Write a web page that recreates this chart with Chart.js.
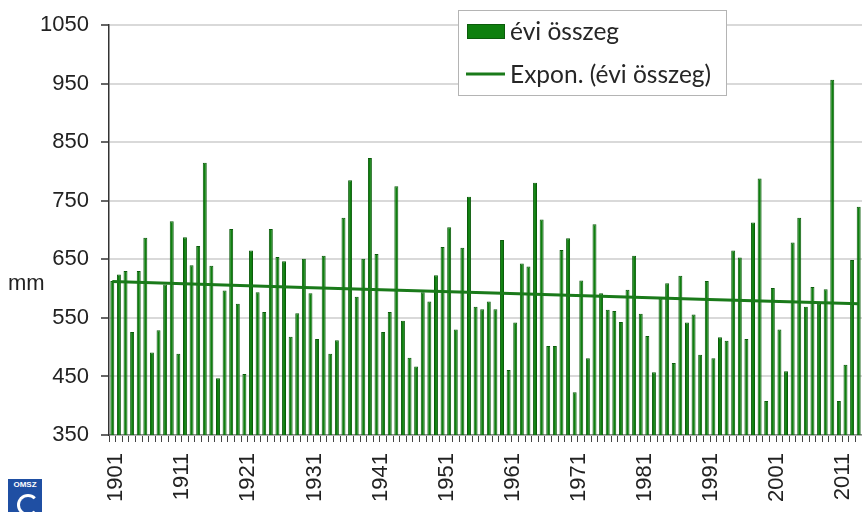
<!DOCTYPE html>
<html>
<head>
<meta charset="utf-8">
<script src="https://cdn.jsdelivr.net/npm/chart.js@4/dist/chart.umd.min.js"></script>
<style>
  html, body { margin: 0; padding: 0; background: #fff; }
  #wrap { position: relative; width: 862px; height: 512px; }
  #logo {
    position: absolute; left: 8px; top: 479px; width: 34px; height: 34px;
    background: #1f4fa3; color: #fff; font: bold 8px Arial, "Liberation Sans", sans-serif;
    text-align: center; line-height: 11px; overflow: hidden;
  }
  #logo span {
    position: absolute; left: 9px; top: 15px; width: 16px; height: 16px;
    border: 3px solid #fff; border-radius: 50%; border-right-color: transparent;
  }
</style>
</head>
<body>
<div id="wrap">
  <canvas id="chart" width="862" height="512"></canvas>
  <div id="logo">OMSZ<span></span></div>
</div>
<script>
// years 1901..2014
const firstYear = 1901;
const lastYear = 2014;
const years = [];
for (let y = firstYear; y <= lastYear; y++) years.push(String(y));

const xTickLabels = ['1901', '1911', '1921', '1931', '1941', '1951', '1961', '1971', '1981', '1991', '2001', '2011'];
const yTicks = [350, 450, 550, 650, 750, 850, 950, 1050];

const barLabel = 'évi összeg';
const lineLabel = 'Expon. (évi összeg)';

// annual precipitation, mm
const annualSum = [
  613, 624, 630, 526, 630, 687, 491, 529, 607, 715,
  489, 688, 640, 673, 815, 639, 447, 597, 702, 574,
  454, 665, 594, 560, 702, 654, 647, 518, 558, 651,
  592, 514, 656, 489, 512, 721, 785, 586, 651, 823,
  659, 526, 560, 775, 545, 482, 467, 594, 578, 623,
  671, 705, 530, 670, 757, 569, 565, 578, 565, 683,
  461, 542, 643, 638, 781, 718, 502, 502, 666, 686,
  423, 614, 481, 710, 592, 564, 562, 543, 598, 656,
  557, 519, 457, 583, 609, 473, 622, 542, 556, 487,
  613, 481, 517, 511, 665, 653, 514, 713, 788, 408,
  601, 530, 459, 679, 721, 569, 603, 574, 599, 957,
  408, 470, 649, 740
];

// exponential trend read at a few years
const trendYears = ['1901', '1930', '1960', '1990', '2014'];
const trendValues = [612, 602, 592, 582, 574];

const trendData = years.map(y => {
  const k = trendYears.indexOf(y);
  return k >= 0 ? trendValues[k] : null;
});

const axisFont = 'Arial, "Liberation Sans", sans-serif';

const legendBox = {
  id: 'legendBox',
  afterDraw(chart) {
    const ctx = chart.ctx;
    ctx.save();
    ctx.fillStyle = '#ffffff';
    ctx.fillRect(458, 10, 268, 85);
    ctx.strokeStyle = '#b4b4b4';
    ctx.lineWidth = 1;
    ctx.strokeRect(458.5, 10.5, 268, 85);

    ctx.fillStyle = '#0e7f0e';
    ctx.fillRect(467, 24, 38, 15);
    ctx.strokeStyle = '#0b5c0b';
    ctx.strokeRect(467.5, 24.5, 37, 14);

    ctx.strokeStyle = '#1a7a1a';
    ctx.lineWidth = 3;
    ctx.beginPath();
    ctx.moveTo(466, 74);
    ctx.lineTo(505, 74);
    ctx.stroke();

    ctx.fillStyle = '#262626';
    ctx.font = '24.5px Lato';
    ctx.textBaseline = 'middle';
    ctx.textAlign = 'left';
    ctx.fillText(chart.data.datasets[1].label, 510, 32);
    ctx.fillText(chart.data.datasets[0].label, 510, 75);

    // unit label
    ctx.font = '22px ' + axisFont;
    ctx.fillStyle = '#222';
    ctx.fillText('mm', 8, 284);
    ctx.restore();
  }
};

const ctx = document.getElementById('chart').getContext('2d');

new Chart(ctx, {
  type: 'bar',
  data: {
    labels: years,
    datasets: [{
      type: 'line',
      label: lineLabel,
      data: trendData,
      borderColor: '#1a7a1a',
      borderWidth: 3,
      pointRadius: 0,
      spanGaps: true,
      fill: false,
      order: 0
    }, {
      label: barLabel,
      data: annualSum,
      backgroundColor: '#0e7f0e',
      borderColor: '#0b5c0b',
      borderWidth: 1,
      categoryPercentage: 1,
      barPercentage: 0.6,
      order: 1
    }]
  },
  options: {
    responsive: false,
    animation: false,
    layout: { padding: { top: 24, right: 0, bottom: 0, left: 0 } },
    plugins: {
      legend: { display: false },
      tooltip: { enabled: false }
    },
    scales: {
      x: {
        offset: true,
        grid: {
          display: true,
          drawOnChartArea: false,
          drawTicks: true,
          tickLength: 7,
          tickColor: '#444',
          tickWidth: 1,
          offset: true
        },
        border: { color: '#8a8a8a', width: 1.5 },
        ticks: {
          autoSkip: false,
          maxRotation: 90,
          minRotation: 90,
          padding: 11,
          labelOffset: 4,
          color: '#222',
          font: { family: axisFont, size: 22 },
          callback: (v, i) => xTickLabels.includes(years[i]) ? years[i] : ''
        },
        afterFit: scale => {
          scale.height = 77;
          scale.paddingLeft = 0;
          scale.paddingRight = 0;
        }
      },
      y: {
        min: yTicks[0],
        max: yTicks[yTicks.length - 1],
        afterBuildTicks: scale => { scale.ticks = yTicks.map(v => ({ value: v })); },
        grid: {
          color: '#d9d9d9',
          lineWidth: 2,
          tickLength: 8,
          tickColor: '#333',
          tickWidth: 1.5
        },
        border: { color: '#333', width: 1.5 },
        ticks: {
          padding: 12,
          color: '#222',
          font: { family: axisFont, size: 22 },
          callback: v => String(v)
        },
        afterFit: scale => { scale.width = 109; }
      }
    }
  },
  plugins: [legendBox]
});
</script>
</body>
</html>
